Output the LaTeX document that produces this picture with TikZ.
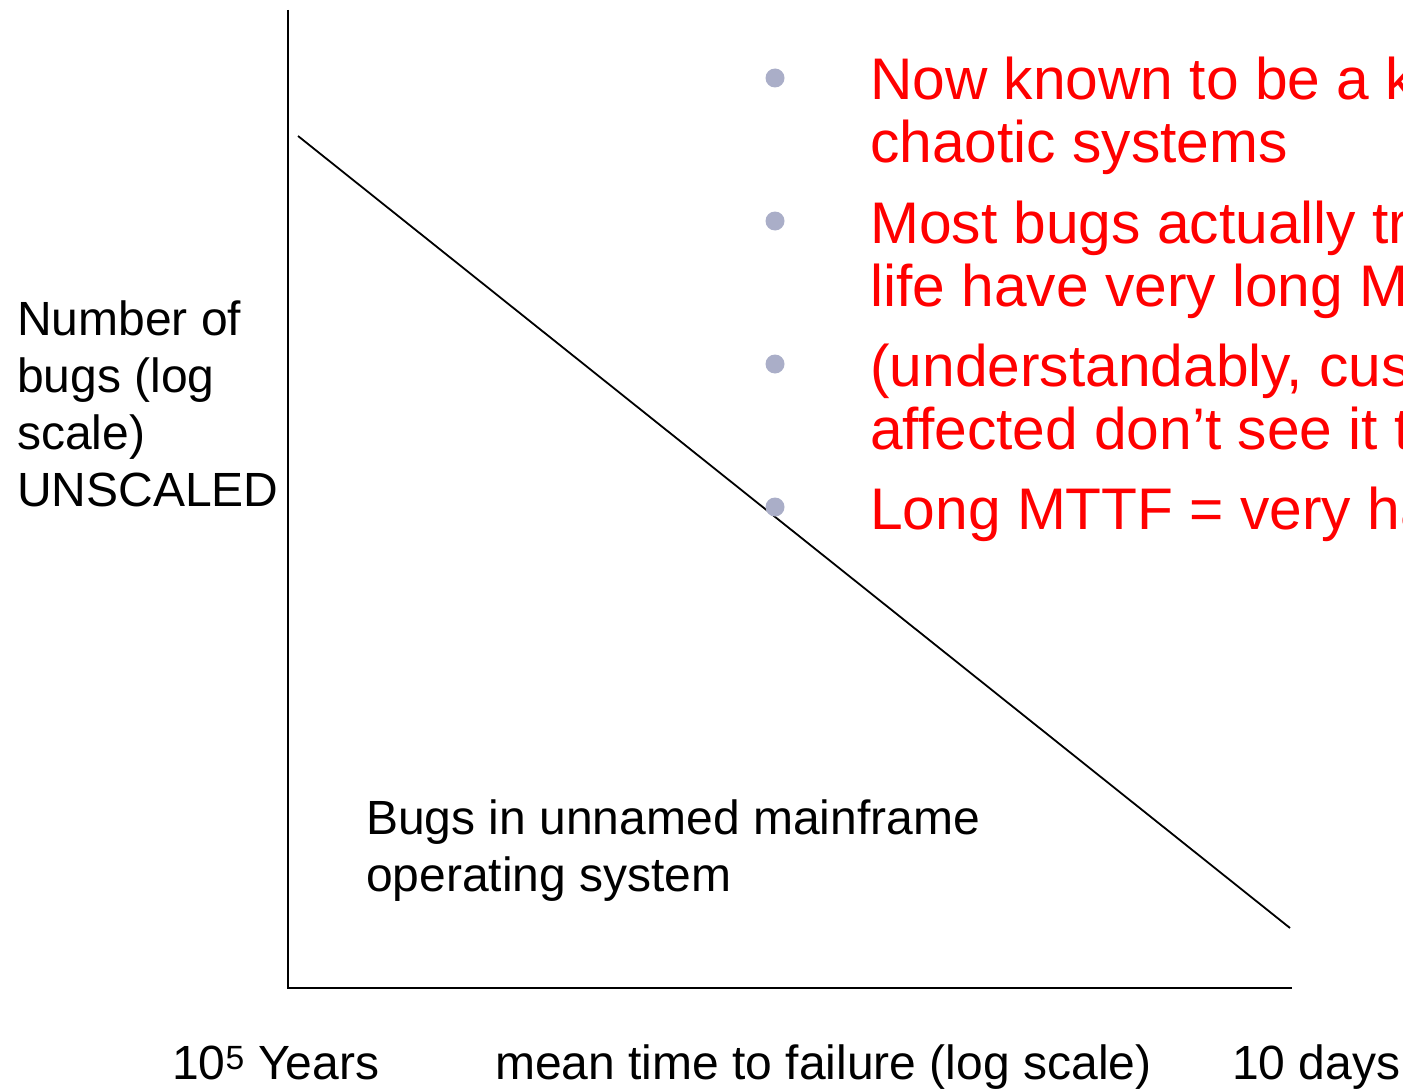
\documentclass[tikz,border=0pt]{standalone}
\usepackage{fontspec}
\setmainfont{Liberation Sans}
\definecolor{bulletgray}{RGB}{170,174,200}
\newcommand\mlines[1]{\begin{tabular}[t]{@{}l@{}}#1\end{tabular}}
\tikzset{
  axis/.style={line width=2pt},
  trend/.style={line width=1.8pt},
  dot/.style={circle,fill=bulletgray,minimum size=19pt,inner sep=0pt,anchor=center},
  label/.style={inner sep=0pt,anchor=base west,font=\fontsize{48}{57}\selectfont},
  point/.style={inner sep=0pt,anchor=base west,text=red,font=\fontsize{58.7}{63}\selectfont}
}
\begin{document}
\begin{tikzpicture}[x=1pt,y=-1pt]
\useasboundingbox (0,0) rectangle (1403,1089);
\clip (0,0) rectangle (1403,1089);
% axes
\coordinate (ytop) at (288,10);
\coordinate (origin) at (288,988);
\coordinate (xend) at (1292,988);
\draw[axis] (ytop) -- (origin) -- (xend);
% bug count falls with MTTF
\coordinate (hi) at (298,136);
\coordinate (lo) at (1290,928);
\draw[trend] (hi) -- (lo);
% axis labels
\node[label] (ylabel) at (17,335) {\mlines{Number of\\bugs (log\\scale)\\UNSCALED}};
\node[label] (xleft) at (172,1079) {10\textsuperscript{5} Years};
\node[label] (xmid) at (495,1079) {mean time to failure (log scale)};
\node[label] (xright) at (1232,1079) {10 days};
\node[label] (os) at (366,834) {\mlines{Bugs in unnamed mainframe\\operating system}};
% bullet points
\foreach \y [count=\i] in {78,221,364,507}
  \node[dot] (b\i) at (775,\y) {};
\node[point] (p1) at (870,100) {\mlines{Now known to be a key\\chaotic systems}};
\node[point] (p2) at (870,243) {\mlines{Most bugs actually triggered\\life have very long MTTF}};
\node[point] (p3) at (870,386) {\mlines{(understandably, customers\\affected don’t see it that way)}};
\node[point] (p4) at (870,529) {Long MTTF = very hard};
\end{tikzpicture}
\end{document}
